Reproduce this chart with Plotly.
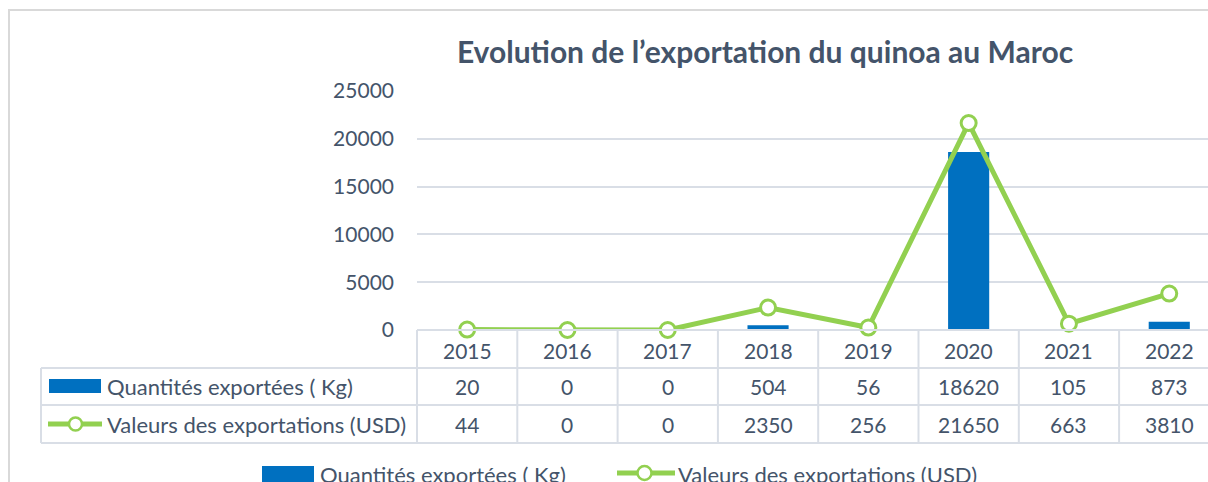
import plotly.graph_objects as go

years = ["2015", "2016", "2017", "2018", "2019", "2020", "2021", "2022"]
quantites = [20, 0, 0, 504, 56, 18620, 105, 873]
valeurs = [44, 0, 0, 2350, 256, 21650, 663, 3810]
y_ticks = [0, 5000, 10000, 15000, 20000, 25000]
name_q = "Quantités exportées ( Kg)"
name_v = "Valeurs des exportations (USD)"
title = "Evolution de l’exportation du quinoa au Maroc"

W, H = 1208, 482
L, T, B = 417, 91, 330  # plot area pixel bounds
CAT_W = 100.3
FONT = "Lato"
TXT = "#44546A"
GRID = "#D9DEE6"
BLUE = "#0070C0"
GREEN = "#92D050"
NUM_SIZE = 21
LBL_SIZE = 22


def pxx(px):
    return (px - L) / (W - L)


def pxy(py):
    return (B - py) / (B - T)


fig = go.Figure()
fig.add_trace(go.Bar(x=list(range(len(years))), y=quantites, name=name_q,
                     marker=dict(color=BLUE, line=dict(width=0)), width=0.41))
fig.add_trace(go.Scatter(x=list(range(len(years))), y=valeurs, name=name_v,
                         mode="lines+markers", cliponaxis=False,
                         line=dict(color=GREEN, width=5),
                         marker=dict(symbol="circle", size=15, color="white",
                                     line=dict(color=GREEN, width=3))))

x_end = -0.5 + (W - L) / CAT_W
fig.update_layout(
    width=W, height=H, autosize=False,
    margin=dict(l=L, r=0, t=T, b=H - B, pad=0),
    paper_bgcolor="white", plot_bgcolor="white",
    showlegend=False,
    font=dict(family=FONT, color=TXT, size=NUM_SIZE),
    title=dict(text="<b>" + title + "</b>", x=pxx(765), xref="paper", xanchor="center",
               y=1 - 52 / H, yref="container", yanchor="middle",
               font=dict(family=FONT, size=30, color=TXT)),
    xaxis=dict(range=[-0.5, x_end], showticklabels=False, showgrid=False,
               zeroline=False, showline=False, ticks=""),
    yaxis=dict(range=[0, 25000], tickvals=y_ticks, ticktext=[str(v) for v in y_ticks],
               showgrid=True, gridcolor=GRID,
               gridwidth=1.5, zeroline=False, showline=False, ticks="",
               ticklabelstandoff=22, tickfont=dict(size=NUM_SIZE, color=TXT)),
    bargap=0.59,
)

shapes = []
line_style = dict(color=GRID, width=2)
# outer chart border
shapes.append(dict(type="rect", xref="paper", yref="paper", x0=pxx(9), x1=pxx(1230),
                   y0=pxy(520), y1=pxy(10), line=dict(color="#D9D9D9", width=2),
                   fillcolor="rgba(0,0,0,0)", layer="below"))
# horizontal table lines
shapes.append(dict(type="line", xref="paper", yref="paper", x0=0, x1=1.02,
                   y0=pxy(B), y1=pxy(B), line=line_style))
for py in (368, 405, 443):
    shapes.append(dict(type="line", xref="paper", yref="paper", x0=pxx(41), x1=1.02,
                       y0=pxy(py), y1=pxy(py), line=line_style))
# vertical table lines at category boundaries
for i in range(len(years)):
    xb = pxx(L + i * CAT_W)
    shapes.append(dict(type="line", xref="paper", yref="paper", x0=xb, x1=xb,
                       y0=pxy(B), y1=pxy(443), line=line_style))
shapes.append(dict(type="line", xref="paper", yref="paper", x0=pxx(41), x1=pxx(41),
                   y0=pxy(368), y1=pxy(443), line=line_style))
# legend keys inside table
shapes.append(dict(type="rect", xref="paper", yref="paper", x0=pxx(49), x1=pxx(101),
                   y0=pxy(393), y1=pxy(379), fillcolor=BLUE, line=dict(width=0)))
shapes.append(dict(type="line", xref="paper", yref="paper", x0=pxx(48), x1=pxx(102),
                   y0=pxy(424), y1=pxy(424), line=dict(color=GREEN, width=5)))
shapes.append(dict(type="circle", xref="paper", yref="paper", x0=pxx(69), x1=pxx(82),
                   y0=pxy(430.5), y1=pxy(417.5), fillcolor="white",
                   line=dict(color=GREEN, width=2.5)))
# bottom legend keys
shapes.append(dict(type="rect", xref="paper", yref="paper", x0=pxx(262), x1=pxx(314),
                   y0=pxy(482), y1=pxy(466), fillcolor=BLUE, line=dict(width=0)))
shapes.append(dict(type="line", xref="paper", yref="paper", x0=pxx(617), x1=pxx(675),
                   y0=pxy(473), y1=pxy(473), line=dict(color=GREEN, width=5)))
shapes.append(dict(type="circle", xref="paper", yref="paper", x0=pxx(637.5), x1=pxx(651.5),
                   y0=pxy(480), y1=pxy(466), fillcolor="white",
                   line=dict(color=GREEN, width=2.5)))
fig.update_layout(shapes=shapes)

ann = []
for i, yr in enumerate(years):
    ann.append(dict(x=i, xref="x", y=pxy(350), yref="paper", text=yr, showarrow=False,
                    xanchor="center", yanchor="middle", font=dict(size=NUM_SIZE, color=TXT)))
    ann.append(dict(x=i, xref="x", y=pxy(386.5), yref="paper", text=str(quantites[i]),
                    showarrow=False, xanchor="center", yanchor="middle",
                    font=dict(size=NUM_SIZE, color=TXT)))
    ann.append(dict(x=i, xref="x", y=pxy(424), yref="paper", text=str(valeurs[i]),
                    showarrow=False, xanchor="center", yanchor="middle",
                    font=dict(size=NUM_SIZE, color=TXT)))
ann.append(dict(x=pxx(105), xref="paper", y=pxy(386.5), yref="paper", text=name_q,
                showarrow=False, xanchor="left", yanchor="middle", font=dict(size=LBL_SIZE, color=TXT)))
ann.append(dict(x=pxx(105), xref="paper", y=pxy(424), yref="paper", text=name_v,
                showarrow=False, xanchor="left", yanchor="middle", font=dict(size=LBL_SIZE, color=TXT)))
ann.append(dict(x=pxx(318), xref="paper", y=pxy(474), yref="paper", text=name_q,
                showarrow=False, xanchor="left", yanchor="middle", font=dict(size=LBL_SIZE, color=TXT)))
ann.append(dict(x=pxx(676), xref="paper", y=pxy(474), yref="paper", text=name_v,
                showarrow=False, xanchor="left", yanchor="middle", font=dict(size=LBL_SIZE, color=TXT)))
fig.update_layout(annotations=ann)

fig.write_html("out.html")
